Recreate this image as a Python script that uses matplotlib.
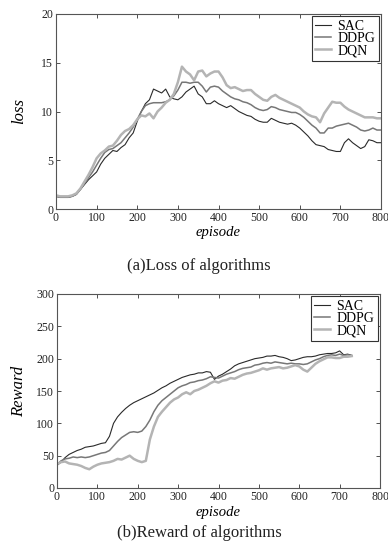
import matplotlib
matplotlib.use("Agg")
import matplotlib.pyplot as plt
import numpy as np

# ---------------- data ----------------
loss_x = [0, 10, 20, 30, 40, 50, 60, 70, 80, 90, 100, 110, 120, 130, 140, 150, 160, 170, 180, 190,
          200, 210, 220, 230, 240, 250, 260, 270, 280, 290, 300, 310, 320, 330, 340, 350, 360, 370,
          380, 390, 400, 410, 420, 430, 440, 450, 460, 470, 480, 490, 500, 510, 520, 530, 540, 550,
          560, 570, 580, 590, 600, 610, 620, 630, 640, 650, 660, 670, 680, 690, 700, 710, 720, 730,
          740, 750, 760, 770, 780, 790, 800]
loss_sac = [1.3, 1.2, 1.2, 1.2, 1.3, 1.5, 2.0, 2.5, 3.0, 3.4, 3.8, 4.6, 5.2, 5.6, 6.0, 5.9, 6.3, 6.6, 7.3, 7.8,
            9.0, 10.0, 10.8, 11.2, 12.3, 12.1, 11.9, 12.3, 11.5, 11.3, 11.2, 11.5, 12.0, 12.3, 12.6, 11.8, 11.5, 10.8,
            10.8, 11.1, 10.8, 10.6, 10.4, 10.6, 10.3, 10.0, 9.8, 9.6, 9.5, 9.2, 9.0, 8.9, 8.9, 9.3, 9.1, 8.9,
            8.8, 8.7, 8.8, 8.6, 8.3, 7.9, 7.5, 7.0, 6.6, 6.5, 6.4, 6.1, 6.0, 5.9, 5.9, 6.8, 7.2, 6.8,
            6.5, 6.2, 6.4, 7.1, 7.0, 6.8, 6.8]
loss_ddpg = [1.3, 1.2, 1.2, 1.2, 1.3, 1.5, 2.0, 2.6, 3.2, 3.8, 4.5, 5.2, 5.8, 6.1, 6.2, 6.5, 6.8, 7.3, 7.8, 8.4,
             9.2, 10.0, 10.6, 10.8, 10.9, 10.9, 10.9, 11.0, 11.2, 11.6, 12.2, 13.0, 13.0, 12.9, 13.0, 13.0, 12.6, 12.0,
             12.5, 12.6, 12.5, 12.1, 11.8, 11.5, 11.3, 11.2, 11.0, 10.9, 10.7, 10.4, 10.2, 10.1, 10.2, 10.5, 10.4, 10.2,
             10.1, 10.0, 9.9, 9.9, 9.7, 9.4, 9.0, 8.6, 8.3, 7.8, 7.8, 8.3, 8.3, 8.5, 8.6, 8.7, 8.8, 8.6,
             8.4, 8.1, 8.0, 8.1, 8.3, 8.1, 8.1]
loss_dqn = [1.4, 1.3, 1.3, 1.3, 1.4, 1.6, 2.1, 2.8, 3.5, 4.3, 5.2, 5.7, 6.0, 6.4, 6.5, 7.0, 7.6, 8.0, 8.2, 8.6,
            9.2, 9.6, 9.5, 9.8, 9.3, 10.0, 10.4, 10.9, 11.2, 11.8, 13.0, 14.6, 14.1, 13.8, 13.2, 14.1, 14.2, 13.6,
            13.9, 14.1, 14.1, 13.5, 12.7, 12.4, 12.5, 12.3, 12.1, 12.2, 12.2, 11.8, 11.5, 11.2, 11.1, 11.5, 11.7, 11.4,
            11.2, 11.0, 10.8, 10.6, 10.4, 10.0, 9.7, 9.5, 9.4, 8.9, 9.8, 10.4, 11.0, 10.9, 10.9, 10.5, 10.2, 10.0,
            9.8, 9.6, 9.4, 9.4, 9.4, 9.3, 9.3]

rew_x = [0, 10, 20, 30, 40, 50, 60, 70, 80, 90, 100, 110, 120, 130, 140, 150, 160, 170, 180, 190,
         200, 210, 220, 230, 240, 250, 260, 270, 280, 290, 300, 310, 320, 330, 340, 350, 360, 370,
         380, 390, 400, 410, 420, 430, 440, 450, 460, 470, 480, 490, 500, 510, 520, 530, 540, 550,
         560, 570, 580, 590, 600, 610, 620, 630, 640, 650, 660, 670, 680, 690, 700, 710, 720, 730]
rew_sac = [35, 40, 47, 52, 55, 58, 60, 63, 64, 65, 67, 69, 70, 80, 100, 110, 117, 123, 128, 132,
           135, 138, 141, 144, 147, 151, 155, 158, 162, 165, 168, 171, 173, 175, 176, 178, 178, 180,
           179, 168, 173, 176, 180, 184, 189, 192, 194, 196, 198, 200, 201, 202, 204, 204, 205, 203,
           202, 200, 197, 198, 200, 202, 203, 203, 204, 206, 207, 208, 208, 209, 212, 206, 207, 205]
rew_ddpg = [36, 42, 45, 46, 48, 47, 48, 47, 48, 50, 52, 54, 55, 58, 65, 72, 78, 82, 86, 87,
            86, 88, 95, 105, 118, 128, 135, 140, 145, 150, 155, 158, 160, 163, 164, 166, 167, 169,
            172, 171, 170, 173, 176, 178, 180, 183, 185, 186, 187, 190, 191, 193, 194, 193, 195, 194,
            193, 192, 193, 192, 192, 191, 192, 195, 198, 200, 203, 205, 206, 205, 207, 205, 206, 205]
rew_dqn = [37, 40, 41, 38, 37, 36, 34, 31, 29, 33, 36, 38, 39, 40, 42, 45, 44, 47, 50, 45,
           42, 40, 42, 75, 95, 110, 118, 125, 132, 137, 140, 145, 148, 145, 150, 152, 155, 158,
           162, 165, 163, 166, 167, 170, 169, 172, 175, 177, 178, 180, 182, 185, 183, 185, 186, 187,
           185, 186, 188, 190, 188, 183, 180, 186, 192, 196, 199, 202, 202, 201, 201, 203, 203, 204]

series_names = ["SAC", "DDPG", "DQN"]
loss_ticks_y = [0, 5, 10, 15, 20]
rew_ticks_y = [0, 50, 100, 150, 200, 250, 300]
x_ticks = [0, 100, 200, 300, 400, 500, 600, 700, 800]

# ---------------- style ----------------
serif = ["Liberation Serif", "DejaVu Serif"]
plt.rcParams["font.family"] = serif

colors = ["#2a2a2a", "#777777", "#b4b4b4"]
widths = [0.8, 1.1, 1.8]

fig = plt.figure(figsize=(3.88, 5.58), dpi=100)
ax1 = fig.add_axes([56/388, 1-209/558, (381-56)/388, (209-14)/558])
ax2 = fig.add_axes([57/388, 1-488/558, (380-57)/388, (488-294)/558])


def style(ax, yticks, ylim, ylabel, ylab_x, xlab_off):
    ax.set_xlim(0, 800)
    ax.set_ylim(*ylim)
    ax.set_xticks(x_ticks)
    ax.set_yticks(yticks)
    ax.tick_params(direction="in", top=True, right=True, labelsize=8.5, length=3,
                   width=0.6, pad=2, colors="#333333", labelcolor="#222222")
    for s in ax.spines.values():
        s.set_linewidth(0.8)
        s.set_color("#555555")
    ax.set_xlabel("episode", fontsize=10.5, style="italic")
    h = ax.get_position().height * 558
    ax.xaxis.set_label_coords(0.5, -xlab_off / h)
    ax.set_ylabel(ylabel, fontsize=12, style="italic")
    ax.yaxis.set_label_coords(ylab_x, 0.5)
    leg = ax.legend(loc="upper right", fontsize=10, fancybox=False, edgecolor="#333333",
                    framealpha=1, handlelength=1.1, borderpad=0.25, labelspacing=-0.05,
                    handletextpad=0.5, borderaxespad=0.15)
    leg.get_frame().set_linewidth(0.8)


for ys, c, w, n in zip([loss_sac, loss_ddpg, loss_dqn], colors, widths, series_names):
    ax1.plot(loss_x, ys, color=c, lw=w, label=n)
for ys, c, w, n in zip([rew_sac, rew_ddpg, rew_dqn], colors, widths, series_names):
    ax2.plot(rew_x, ys, color=c, lw=w, label=n)

style(ax1, loss_ticks_y, (0, 20), "loss", (27 - 56) / 325, 17)
style(ax2, rew_ticks_y, (0, 300), "Reward", (27 - 57) / 323, 18)

fig.text(199/388, 1-266/558, "(a)Loss of algorithms", ha="center", va="center",
         fontsize=12, color="#222222")
fig.text(199/388, 1-533/558, "(b)Reward of algorithms", ha="center", va="center",
         fontsize=12, color="#222222")

fig.savefig("out.png", dpi=100, facecolor="white")
